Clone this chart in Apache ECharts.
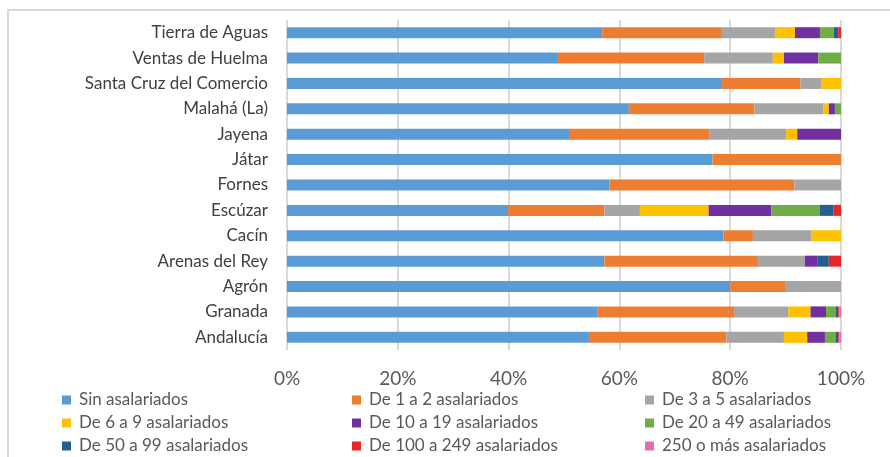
<!DOCTYPE html>
<html>
<head>
<meta charset="utf-8">
<script src="https://cdn.jsdelivr.net/npm/echarts@6/dist/echarts.min.js"></script>
<style>
    html, body { margin: 0; padding: 0; background: #fff; }
    #chart { width: 890px; height: 457px; }
</style>
</head>
<body>
<div id="chart"></div>
<script>

// Data
// ------------------------------

var categories = ['Tierra de Aguas', 'Ventas de Huelma', 'Santa Cruz del Comercio', 'Malahá (La)', 'Jayena', 'Játar', 'Fornes', 'Escúzar', 'Cacín', 'Arenas del Rey', 'Agrón', 'Granada', 'Andalucía'];

var seriesNames = ['Sin asalariados', 'De 1 a 2 asalariados', 'De 3 a 5 asalariados', 'De 6 a 9 asalariados', 'De 10 a 19 asalariados', 'De 20 a 49 asalariados', 'De 50 a 99 asalariados', 'De 100 a 249 asalariados', '250 o más asalariados'];

var sinAsalariados   = [56.9, 48.9, 78.5, 61.7, 50.9, 76.8, 58.2, 39.9, 78.8, 57.3, 80.0, 56.1, 54.5];
var de1a2            = [21.6, 26.4, 14.2, 22.7, 25.4, 23.2, 33.4, 17.4, 5.3, 27.7, 9.9, 24.6, 24.8];
var de3a5            = [9.6, 12.4, 3.7, 12.4, 13.8, 0, 8.4, 6.4, 10.6, 8.5, 10.1, 9.8, 10.4];
var de6a9            = [3.6, 2.0, 3.6, 1.0, 2.0, 0, 0, 12.4, 5.3, 0, 0, 4.0, 4.2];
var de10a19          = [4.5, 6.2, 0, 1.1, 7.9, 0, 0, 11.3, 0, 2.2, 0, 2.8, 3.2];
var de20a49          = [2.5, 4.1, 0, 1.1, 0, 0, 0, 8.8, 0, 0, 0, 1.8, 1.9];
var de50a99          = [0.8, 0, 0, 0, 0, 0, 0, 2.4, 0, 2.1, 0, 0.4, 0.5];
var de100a249        = [0.5, 0, 0, 0, 0, 0, 0, 1.4, 0, 2.2, 0, 0.2, 0.2];
var de250omas        = [0, 0, 0, 0, 0, 0, 0, 0, 0, 0, 0, 0.3, 0.3];

var xTicks = [0, 20, 40, 60, 80, 100];

var colors = ['#5b9bd5', '#ed7d31', '#a5a5a5', '#ffc000', '#7030a0', '#70ad47', '#255e91', '#e82628', '#e06fb0'];


// Chart
// ------------------------------

var chart_element = document.getElementById('chart');
var chart = echarts.init(chart_element, null, { renderer: 'canvas' });

var allValues = [sinAsalariados, de1a2, de3a5, de6a9, de10a19, de20a49, de50a99, de100a249, de250omas];

var series = seriesNames.map(function(name, i) {
    return {
        name: name,
        type: 'bar',
        stack: 'total',
        barWidth: 11,
        itemStyle: { color: colors[i] },
        data: allValues[i]
    };
});

var fontFamily = 'Lato, "Liberation Sans", sans-serif';

// Three vertical legend columns
var legendBase = {
    orient: 'vertical',
    top: 391,
    height: 70,
    padding: 0,
    icon: 'rect',
    itemWidth: 9,
    itemHeight: 9,
    itemGap: 5,
    textStyle: { fontFamily: fontFamily, fontSize: 17, color: '#595959', lineHeight: 18, padding: [0, 0, 0, 3] }
};

var options = {
    animation: false,
    color: colors,
    textStyle: { fontFamily: fontFamily },

    graphic: [{
        type: 'rect',
        shape: { x: 8, y: 10, width: 900, height: 470 },
        style: { fill: 'none', stroke: '#d9d9d9', lineWidth: 2 },
        silent: true
    }],

    grid: {
        left: 287,
        right: 49,
        top: 20,
        bottom: 107
    },

    xAxis: {
        type: 'value',
        min: xTicks[0],
        max: xTicks[xTicks.length - 1],
        interval: 20,
        axisLine: { show: false },
        axisTick: { show: false },
        axisLabel: {
            formatter: '{value}%',
            fontSize: 19,
            color: '#595959',
            margin: 19
        },
        splitLine: { lineStyle: { color: '#d9d9d9', width: 2 } }
    },

    yAxis: {
        type: 'category',
        inverse: true,
        data: categories,
        axisLine: { show: false },
        axisTick: { show: false },
        axisLabel: {
            fontSize: 17,
            color: '#404040',
            margin: 19
        }
    },

    legend: [
        Object.assign({}, legendBase, { left: 62, data: [seriesNames[0], seriesNames[3], seriesNames[6]] }),
        Object.assign({}, legendBase, { left: 352, data: [seriesNames[1], seriesNames[4], seriesNames[7]] }),
        Object.assign({}, legendBase, { left: 645, data: [seriesNames[2], seriesNames[5], seriesNames[8]] })
    ],

    series: series
};

chart.setOption(options);
</script>
</body>
</html>
